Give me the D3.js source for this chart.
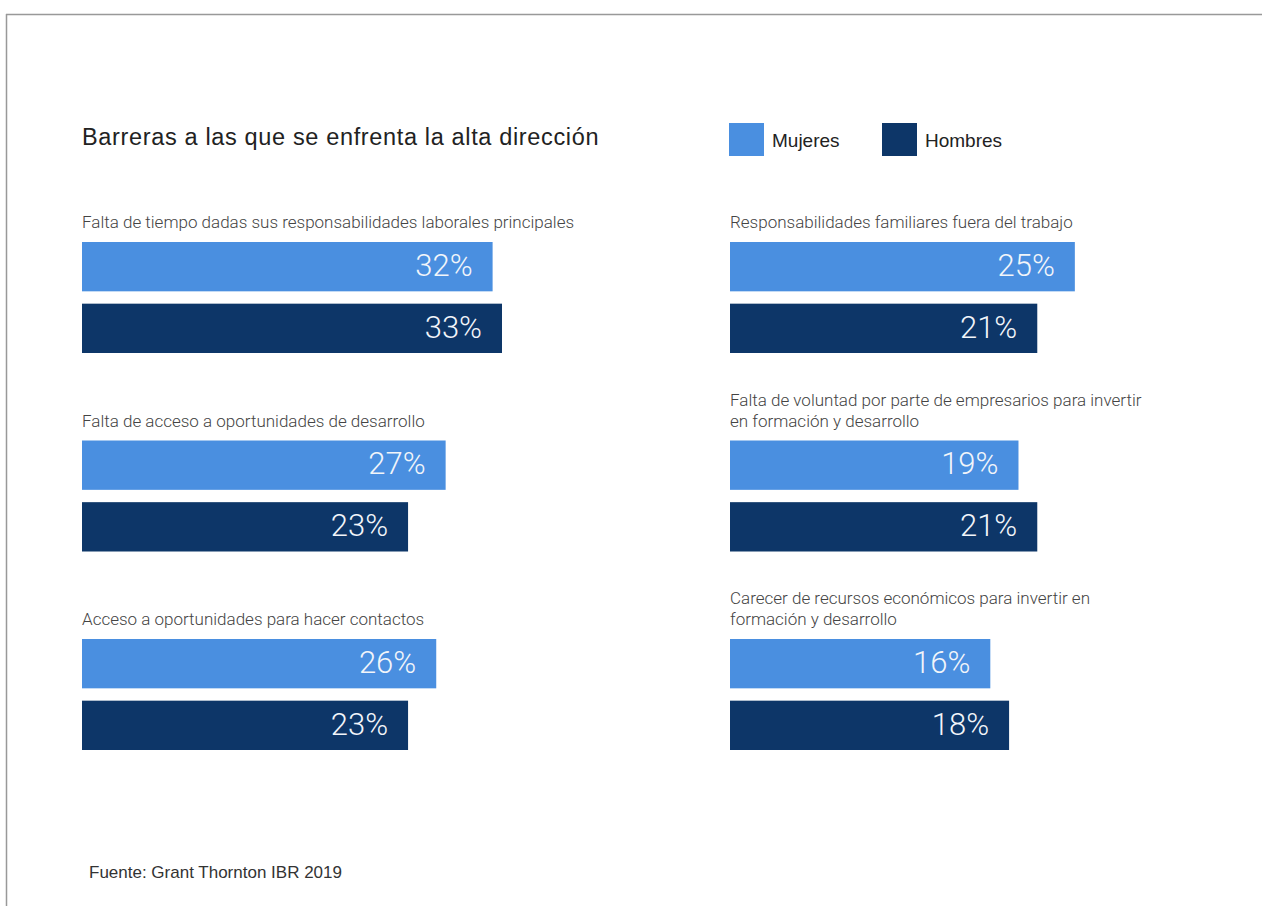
<!DOCTYPE html>
<html>
<head>
<meta charset="utf-8">
<script src="https://cdn.jsdelivr.net/npm/d3@7"></script>
<style>
  body { margin: 0; background: #fff; }
  svg { display: block; }
</style>
</head>
<body>
<div class="chartContainer"></div>
<script>
// Data
const categories = [
    "Falta de tiempo dadas sus responsabilidades laborales principales",
    "Falta de acceso a oportunidades de desarrollo",
    "Acceso a oportunidades para hacer contactos",
    "Responsabilidades familiares fuera del trabajo",
    "Falta de voluntad por parte de empresarios para invertir\nen formación y desarrollo",
    "Carecer de recursos económicos para invertir en\nformación y desarrollo"
];
const series = ["Mujeres", "Hombres"];
const mujeres = [32, 27, 26, 25, 19, 16];
const hombres = [33, 23, 23, 21, 21, 18];

const title = "Barreras a las que se enfrenta la alta dirección";
const source = "Fuente: Grant Thornton IBR 2019";

const width = 1262, height = 906;
const colors = { Mujeres: "#4a8fe0", Hombres: "#0d3668" };

const svg = d3.select(".chartContainer").append("svg")
    .attr("width", width)
    .attr("height", height);

// frame lines
svg.append("line")
    .attr("x1", 6).attr("y1", 14.5).attr("x2", width).attr("y2", 14.5)
    .attr("stroke", "#999").attr("stroke-width", 1.5);
svg.append("line")
    .attr("x1", 6.5).attr("y1", 14).attr("x2", 6.5).attr("y2", height)
    .attr("stroke", "#999").attr("stroke-width", 1.5);

// title
svg.append("text")
    .attr("x", 82).attr("y", 145)
    .attr("fill", "#222")
    .style("font-family", "'Liberation Sans', Arial, sans-serif")
    .style("font-size", "23.5px")
    .style("letter-spacing", "0.65px")
    .text(title);

// legend
const legend = svg.append("g")
    .selectAll("g")
    .data(series)
    .join("g")
    .attr("transform", (d, i) => `translate(${729 + i * 153}, 123)`);

legend.append("rect")
    .attr("width", 35).attr("height", 33)
    .attr("fill", d => colors[d]);

legend.append("text")
    .attr("x", 43).attr("y", 23.5)
    .attr("fill", "#222")
    .style("font-family", "'Liberation Sans', Arial, sans-serif")
    .style("font-size", "19px")
    .text(d => d);

// scales
const colX = d3.scalePoint().domain([0, 1]).range([82, 730]);
const rowY = d3.scalePoint().domain([0, 1, 2]).range([242, 639]);
const barY = d3.scaleBand().domain(series).range([0, 111]).paddingInner(0.2);
const barW = d3.scaleLinear().domain([0, 33]).range([110, 420]);

const groups = svg.append("g")
    .selectAll(".group")
    .data(categories.map((c, i) => ({
        label: c,
        col: Math.floor(i / 3),
        row: i % 3,
        values: [
            { key: "Mujeres", value: mujeres[i] },
            { key: "Hombres", value: hombres[i] }
        ]
    })))
    .join("g")
    .classed("group", true)
    .attr("transform", d => `translate(${colX(d.col)}, ${rowY(d.row)})`);

// category labels (multi-line grow upwards)
groups.each(function(d) {
    const lines = d.label.split("\n");
    const t = d3.select(this).append("text")
        .attr("fill", "#444")
        .style("font-family", "Roboto, sans-serif")
        .style("font-weight", "300")
        .style("font-size", "17px");
    lines.forEach((line, j) => {
        t.append("tspan")
            .attr("x", 0)
            .attr("y", -14 - (lines.length - 1 - j) * 21)
            .text(line);
    });
});

const bars = groups.selectAll(".bar")
    .data(d => d.values)
    .join("g")
    .classed("bar", true);

bars.append("rect")
    .attr("x", 0)
    .attr("y", d => barY(d.key))
    .attr("width", d => barW(d.value))
    .attr("height", barY.bandwidth())
    .attr("fill", d => colors[d.key]);

bars.append("text")
    .attr("x", d => barW(d.value) - 20)
    .attr("y", d => barY(d.key) + barY.bandwidth() / 2)
    .attr("dy", "0.3em")
    .attr("text-anchor", "end")
    .attr("fill", "#f2f5fa")
    .style("font-family", "Roboto, sans-serif")
    .style("font-weight", "300")
    .style("font-size", "31px")
    .text(d => `${d.value}%`);

// source
svg.append("text")
    .attr("x", 89).attr("y", 878)
    .attr("fill", "#333")
    .style("font-family", "'Liberation Sans', Arial, sans-serif")
    .style("font-size", "17px")
    .text(source);
</script>
</body>
</html>
